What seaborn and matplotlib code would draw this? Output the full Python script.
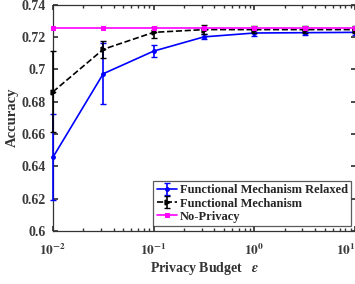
import numpy as np
import seaborn as sns
import matplotlib.pyplot as plt

# privacy budgets (x)
eps = [0.01, 0.0316, 0.1, 0.316, 1.0, 3.16, 10.0]

# Functional Mechanism Relaxed
fmr_mean = [0.6455, 0.6972, 0.7112, 0.7200, 0.7224, 0.7226, 0.7228]
fmr_err = [0.0265, 0.0190, 0.0038, 0.0016, 0.0018, 0.0016, 0.0016]

# Functional Mechanism
fm_mean = [0.6860, 0.7123, 0.7228, 0.7245, 0.7245, 0.7245, 0.7245]
fm_err = [0.0250, 0.0052, 0.0035, 0.0030, 0.0022, 0.0020, 0.0020]

# No-Privacy
np_mean = [0.7255] * 7

yticks = [0.6, 0.62, 0.64, 0.66, 0.68, 0.7, 0.72, 0.74]
ytick_labels = ['0.6', '0.62', '0.64', '0.66', '0.68', '0.7', '0.72', '0.74']
xticks = [0.01, 0.1, 1, 10]
xtick_labels = [r'$10^{-2}$', r'$10^{-1}$', r'$10^{0}$', r'$10^{1}$']

sns.set_theme(style="ticks")
plt.rcParams['font.family'] = ['Liberation Serif', 'DejaVu Serif']
plt.rcParams['font.weight'] = 'bold'
plt.rcParams['mathtext.fontset'] = 'stix'
plt.rcParams['mathtext.default'] = 'bf'

fig = plt.figure(figsize=(3.55, 2.84), dpi=100)
ax = fig.add_axes([0.149, 0.187, 0.855, 0.797])

ax.errorbar(eps, fmr_mean, yerr=fmr_err, color='#0000ff', marker='.', markersize=5,
            linewidth=1.2, capsize=2.5, elinewidth=1.2, label='Functional Mechanism Relaxed', zorder=3)
ax.errorbar(eps, fm_mean, yerr=fm_err, color='black', marker='>', markersize=3.5,
            linewidth=1.2, linestyle='--', capsize=2.5, elinewidth=1.2,
            label='Functional Mechanism', zorder=4)
sns.lineplot(x=eps, y=np_mean, ax=ax, color='#ff00ff', marker='s', markersize=3.5,
             markeredgecolor='#ff00ff', linewidth=1.2, label='No-Privacy', zorder=5)

for art in ax.lines + ax.collections:
    art.set_clip_on(False)

ax.set_xscale('log')
ax.set_xlim(0.01, 10.3)
ax.set_ylim(0.6, 0.74)
ax.set_yticks(yticks)
ax.set_yticklabels(ytick_labels, fontsize=10, fontweight='bold')
ax.set_xticks(xticks)
ax.set_xticklabels(xtick_labels, fontsize=9.5)
ax.get_xticklabels()[-1].set_horizontalalignment('right')

ax.tick_params(which='both', direction='in', top=True, right=True, colors='#333333',
               labelcolor='#3a3a3a')
ax.tick_params(which='major', length=3.5)
ax.tick_params(which='minor', length=2)
ax.tick_params(axis='y', pad=5)
ax.tick_params(axis='x', pad=9)
for s in ax.spines.values():
    s.set_color('#333333')
    s.set_linewidth(0.9)

ax.set_ylabel('Accuracy', fontsize=10.5, fontweight='bold', color='#333333', labelpad=2)
ax.set_xlabel(r'Privacy Budget   $\mathit{\epsilon}$', fontsize=10, fontweight='bold',
              color='#333333', labelpad=1)

handles, labels = ax.get_legend_handles_labels()
order = [labels.index(n) for n in ['Functional Mechanism Relaxed', 'Functional Mechanism', 'No-Privacy']]
leg = ax.legend([handles[i] for i in order], [labels[i] for i in order],
                loc='lower right', prop={'weight': 'bold', 'size': 9}, frameon=True, fancybox=False,
                edgecolor='#333333', borderpad=0.25, labelspacing=0.1, handlelength=1.6,
                handletextpad=0.3, borderaxespad=0.4)
leg.get_frame().set_linewidth(0.9)

fig.savefig('out.png', dpi=100)
